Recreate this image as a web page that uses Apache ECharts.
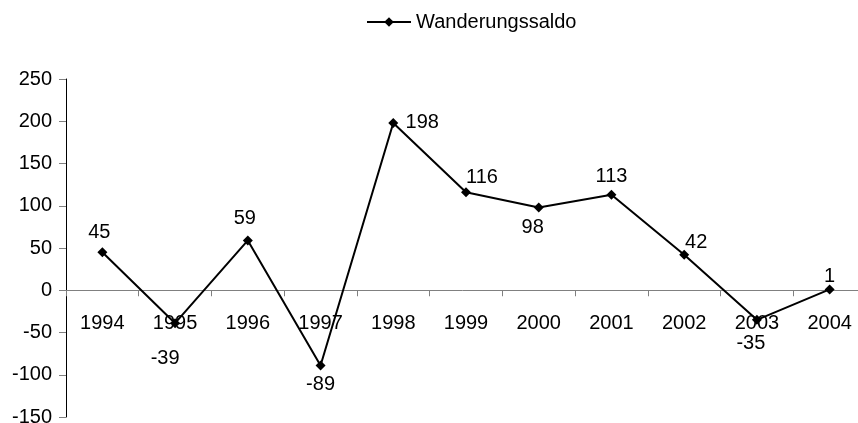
<!DOCTYPE html>
<html>
<head>
<meta charset="utf-8">
<script src="https://cdn.jsdelivr.net/npm/echarts@6/dist/echarts.min.js"></script>
<style>
  html, body { margin: 0; padding: 0; background: #fff; }
  #chart { width: 858px; height: 423px; }
</style>
</head>
<body>
<div id="chart"></div>
<script>
// Wanderungssaldo 1994 - 2004
const years = ['1994', '1995', '1996', '1997', '1998', '1999', '2000', '2001', '2002', '2003', '2004'];
const saldo = [45, -39, 59, -89, 198, 116, 98, 113, 42, -35, 1];
const yTicks = { min: -150, max: 250, step: 50 };

// wo die Beschriftung neben dem Punkt sitzt (dx, dy in px)
const labelShift = [
    [-3, -20], [-10, 35], [-3, -22], [0, 19], [29, 0], [16, -15],
    [-6, 20], [0, -18], [12, -12], [-6, 24], [0, -13]
];

const gridTop = 79;
const gridHeight = 338;
// x-Achse liegt bei 0, also um den Abstand von unten nach oben schieben
const zeroShift = gridHeight * (0 - yTicks.min) / (yTicks.max - yTicks.min);

const chart = echarts.init(document.getElementById('chart'));

const seriesData = saldo.map((v, i) => ({
    value: v,
    label: { offset: labelShift[i] }
}));

const option = {
    animation: false,
    textStyle: { fontFamily: 'Liberation Sans, Arial, sans-serif' },
    legend: {
        data: ['Wanderungssaldo'],
        left: 361,
        top: 7,
        itemWidth: 44,
        itemHeight: 12,
        textStyle: { fontSize: 20, color: '#000', padding: [0, 0, 0, 0] }
    },
    grid: {
        left: 66,
        top: gridTop,
        width: 800,
        height: gridHeight,
        outerBoundsMode: 'none',
        containLabel: false
    },
    xAxis: {
        type: 'category',
        data: years,
        boundaryGap: true,
        position: 'bottom',
        offset: -zeroShift,
        axisLine: { onZero: false, lineStyle: { color: '#808080', width: 1 } },
        axisTick: { show: true, length: 6, inside: false, lineStyle: { color: '#808080' } },
        axisLabel: { fontSize: 20, color: '#000', margin: 23, interval: 0 },
        splitLine: { show: false }
    },
    yAxis: {
        type: 'value',
        min: yTicks.min,
        max: yTicks.max,
        interval: yTicks.step,
        axisLine: { show: true, lineStyle: { color: '#000', width: 1 } },
        axisTick: { show: true, length: 7, lineStyle: { color: '#808080' } },
        axisLabel: { fontSize: 20, color: '#000', margin: 14 },
        splitLine: { show: false }
    },
    series: [
        {
            name: 'Wanderungssaldo',
            type: 'line',
            data: seriesData,
            symbol: 'diamond',
            symbolSize: 10,
            itemStyle: { color: '#000' },
            lineStyle: { color: '#000', width: 2 },
            label: {
                show: true,
                position: 'inside',
                align: 'center',
                verticalAlign: 'middle',
                fontSize: 20,
                color: '#000'
            }
        }
    ]
};

chart.setOption(option);
</script>
</body>
</html>
